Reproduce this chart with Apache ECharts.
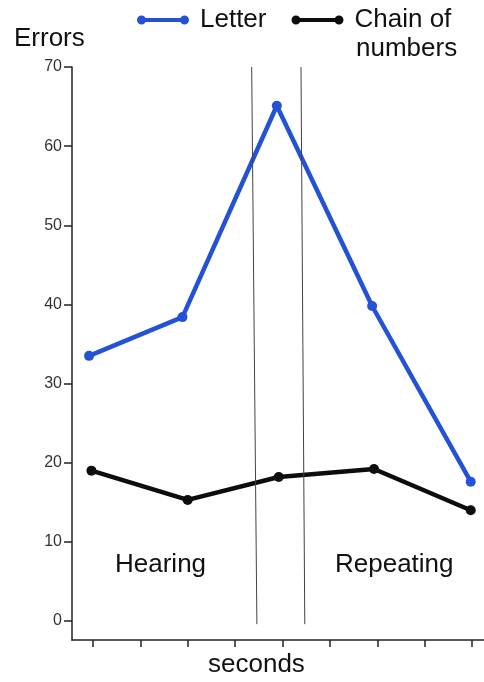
<!DOCTYPE html>
<html>
<head>
<meta charset="utf-8">
<script src="https://cdn.jsdelivr.net/npm/echarts@6/dist/echarts.min.js"></script>
<style>html,body{margin:0;padding:0;background:#fff;}#c{width:484px;height:682px;}</style>
</head>
<body>
<div id="c"></div>
<script>
// Data
const letterX = [-0.08, 1.89, 3.88, 5.89, 7.97];
const letterY = [33.5, 38.4, 65.1, 39.8, 17.6];
const chainX = [-0.03, 2.0, 3.92, 5.93, 7.97];
const chainY = [19.0, 15.3, 18.2, 19.2, 14.0];
const yTicks = [0, 10, 20, 30, 40, 50, 60, 70];
const xTicks = [0, 1, 2, 3, 4, 5, 6, 7, 8];
const dividerLeft = [[3.35, 70], [3.46, -0.4]];
const dividerRight = [[4.39, 70], [4.47, -0.4]];
const seriesNames = ['Letter', 'Chain of numbers'];
const phaseLabels = ['Hearing', 'Repeating'];

const FONT = '"Liberation Sans", Arial, Helvetica, sans-serif';
const chart = echarts.init(document.getElementById('c'), null, {renderer: 'canvas'});
const legendIcon = 'path://M4.5,2.6 H47.5 V6.4 H4.5 Z M0,4.5 A4.5,4.5 0 1 1 9,4.5 A4.5,4.5 0 1 1 0,4.5 Z M43,4.5 A4.5,4.5 0 1 1 52,4.5 A4.5,4.5 0 1 1 43,4.5 Z';

chart.setOption({
  animation: false,
  backgroundColor: '#fff',
  textStyle: {fontFamily: FONT},
  grid: {left: 72, right: 0, top: 67, bottom: 42, containLabel: false},
  legend: {
    left: 132, top: 2,
    icon: legendIcon,
    itemWidth: 52, itemHeight: 9,
    itemGap: 25,
    itemStyle: {borderWidth: 0},
    textStyle: {fontFamily: FONT, fontSize: 26, color: '#111', padding: [0, 0, 0, 6]},
    formatter: function (n) { return n === 'Chain of numbers' ? 'Chain of' : n; },
    data: seriesNames,
    selectedMode: false
  },
  xAxis: {
    type: 'value', min: -0.44, max: 8.25,
    axisLine: {show: true, onZero: false, lineStyle: {color: '#222', width: 1.5}},
    axisTick: {show: true, inside: false, length: 7, customValues: xTicks, lineStyle: {color: '#222', width: 1.5}},
    axisLabel: {show: false},
    splitLine: {show: false}
  },
  yAxis: {
    type: 'value', min: -2.4, max: 70,
    axisLine: {show: true, onZero: false, lineStyle: {color: '#222', width: 1.5}},
    axisTick: {show: true, length: 8, customValues: yTicks, lineStyle: {color: '#222', width: 1.5}},
    axisLabel: {show: true, customValues: yTicks, margin: 10, fontSize: 16, color: '#333', fontFamily: FONT},
    splitLine: {show: false}
  },
  series: [
    {
      name: seriesNames[0], type: 'line',
      data: letterX.map((x, i) => [x, letterY[i]]),
      color: '#2452d6',
      lineStyle: {width: 4.5, color: '#2452d6'},
      symbol: 'circle', symbolSize: 10,
      itemStyle: {color: '#2452d6', borderWidth: 0},
      z: 3
    },
    {
      name: seriesNames[1], type: 'line',
      data: chainX.map((x, i) => [x, chainY[i]]),
      color: '#0d0d0d',
      lineStyle: {width: 4.5, color: '#0d0d0d'},
      symbol: 'circle', symbolSize: 10,
      itemStyle: {color: '#0d0d0d', borderWidth: 0},
      z: 3,
      markLine: {
        silent: true, symbol: 'none', label: {show: false},
        data: [
          [{coord: dividerLeft[0], lineStyle: {color: '#3b4a3c', width: 1, type: 'solid'}}, {coord: dividerLeft[1]}],
          [{coord: dividerRight[0], lineStyle: {color: '#4a3b4a', width: 1, type: 'solid'}}, {coord: dividerRight[1]}]
        ]
      }
    }
  ],
  graphic: [
    {type: 'text', left: 14, top: 26, style: {text: 'Errors', font: '26px ' + FONT, fill: '#111'}},
    {type: 'text', left: 356, top: 36, style: {text: 'numbers', font: '26px ' + FONT, fill: '#111'}},
    {type: 'text', left: 208, top: 652, style: {text: 'seconds', font: '26px ' + FONT, fill: '#111'}},
    {type: 'text', left: 115, top: 552, style: {text: phaseLabels[0], font: '26px ' + FONT, fill: '#111'}},
    {type: 'text', left: 335, top: 552, style: {text: phaseLabels[1], font: '26px ' + FONT, fill: '#111'}}
  ]
});
</script>
</body>
</html>
